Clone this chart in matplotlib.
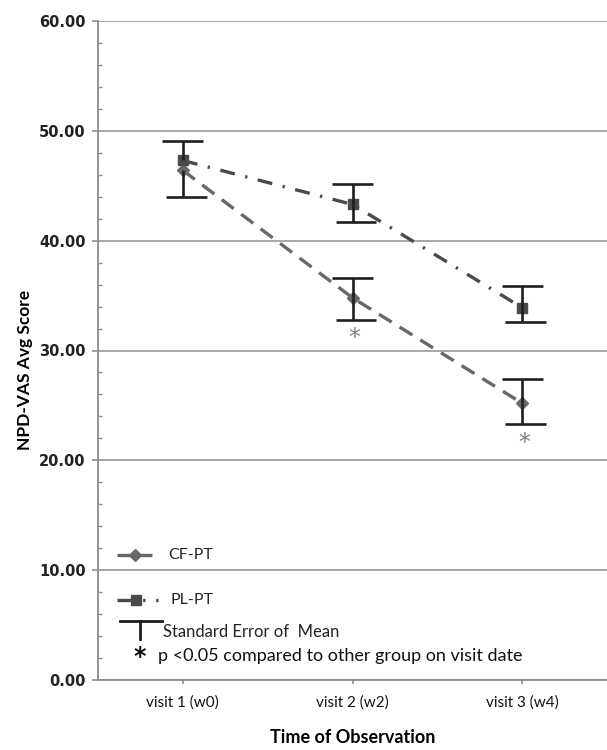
import matplotlib
matplotlib.use("Agg")
import matplotlib.pyplot as plt
import numpy as np
from matplotlib.lines import Line2D

categories = ["visit 1 (w0)", "visit 2 (w2)", "visit 3 (w4)"]
cf_mean = [46.4, 34.8, 25.2]
cf_upper = [np.nan, 36.6, 27.4]
cf_lower = [44.0, 32.8, 23.3]
pl_mean = [47.3, 43.3, 33.9]
pl_upper = [49.1, 45.2, 35.9]
pl_lower = [np.nan, 41.7, 32.6]
cf_significant = [False, True, True]
yticks = [0, 10, 20, 30, 40, 50, 60]

fig = plt.figure(figsize=(6.07, 7.5), dpi=100)
ax = fig.add_axes([98/607, 70/750, 509/607, 659/750])
x = np.arange(len(categories))

cf_col = "#686868"
pl_col = "#4a4a4a"
err_col = "#1e1e1e"

ax.plot(x, cf_mean, color=cf_col, lw=2.4, dashes=(4.5, 2.8), marker="D",
        markersize=6, markerfacecolor=cf_col, markeredgecolor=cf_col, zorder=3)
ax.plot(x, pl_mean, color=pl_col, lw=2.4, dashes=(4.5, 3.2, 0.7, 3.2), marker="s",
        markersize=7.5, markerfacecolor=pl_col, markeredgecolor=pl_col, zorder=3)

capw = 0.12
for mean, up, lo in [(pl_mean, pl_upper, pl_lower), (cf_mean, cf_upper, cf_lower)]:
    for xi, m, u, l in zip(x, mean, up, lo):
        if not np.isnan(u):
            ax.vlines(xi, m, u, color=err_col, lw=1.9, zorder=4)
            ax.hlines(u, xi - capw, xi + capw, color=err_col, lw=1.9, zorder=4)
        if not np.isnan(l):
            ax.vlines(xi, l, m, color=err_col, lw=1.9, zorder=4)
            ax.hlines(l, xi - capw + 0.02, xi + capw + 0.02, color=err_col, lw=1.9, zorder=4)

for xi, lo, sig in zip(x, cf_lower, cf_significant):
    if sig:
        ax.text(xi + 0.01, lo - 0.6, "*", ha="center", va="top", fontsize=17,
                color="#808080", family="DejaVu Sans")

ax.set_xlim(-0.5, 2.5)
ax.set_ylim(0, 60)
ax.set_yticks(yticks)
ax.set_yticklabels([f"{v:.2f}" for v in yticks])
ax.set_yticks(np.arange(0, 61, 2), minor=True)
ax.set_xticks(x)
ax.set_xticklabels(categories)
ax.grid(axis="y", which="major", color="#a0a0a0", lw=1.3)
ax.set_axisbelow(True)
for s in ["top", "right"]:
    ax.spines[s].set_visible(False)
for s in ["left", "bottom"]:
    ax.spines[s].set_color("#8c8c8c")
    ax.spines[s].set_linewidth(1.3)
ax.tick_params(axis="y", which="major", direction="out", length=4, color="#8c8c8c",
               width=1.2, labelsize=10.5, labelcolor="#222222", pad=5)
ax.tick_params(axis="y", which="minor", direction="in", length=3, color="#8c8c8c", width=1)
ax.tick_params(axis="x", which="major", direction="out", length=3, color="#8c8c8c",
               width=1.2, labelsize=11, labelcolor="#111111", pad=8)
for lab in ax.get_yticklabels():
    lab.set_fontweight("bold")
    lab.set_family("DejaVu Sans")
for lab in ax.get_xticklabels():
    lab.set_family("Lato")

ax.set_ylabel("NPD-VAS Avg Score", fontsize=12.5, fontweight="bold", family="Lato")
ax.yaxis.set_label_coords(-0.128, 0.47)
ax.set_xlabel("Time of Observation", fontsize=13, fontweight="bold", family="Lato")
ax.xaxis.set_label_coords(0.5, -0.074)

# custom legend
T = ax.transAxes
def fx(px):
    return (px - 98) / 509
def fy(py):
    return (680 - py) / 659

ax.add_line(Line2D([fx(117), fx(153)], [fy(555), fy(555)], transform=T, color=cf_col,
                   lw=2.4, dashes=(4.5, 1.5), clip_on=False))
ax.add_line(Line2D([fx(135)], [fy(555)], transform=T, color=cf_col, marker="D",
                   markersize=6, lw=0))
ax.text(fx(168), fy(555), "CF-PT", transform=T, va="center", ha="left", fontsize=11.5,
        family="Lato", color="#222222")

ax.add_line(Line2D([fx(117), fx(158)], [fy(600), fy(600)], transform=T, color=pl_col,
                   lw=2.4, dashes=(4.5, 3.2, 0.7, 3.2)))
ax.add_line(Line2D([fx(136)], [fy(600)], transform=T, color=pl_col, marker="s",
                   markersize=7.5, lw=0))
ax.text(fx(170), fy(600), "PL-PT", transform=T, va="center", ha="left", fontsize=11.5,
        family="Lato", color="#222222")

ax.add_line(Line2D([fx(120), fx(162)], [fy(621), fy(621)], transform=T, color=err_col, lw=2))
ax.add_line(Line2D([fx(140), fx(140)], [fy(621), fy(639)], transform=T, color=err_col, lw=2))
ax.text(fx(163), fy(632), "Standard Error of  Mean", transform=T, va="center", ha="left",
        fontsize=12, family="Lato", color="#222222")

ax.text(fx(140), fy(657), "*", transform=T, va="center", ha="center", fontsize=17,
        fontweight="bold", family="DejaVu Sans", color="#111111")
ax.text(fx(158), fy(656), "p <0.05 compared to other group on visit date", transform=T,
        va="center", ha="left", fontsize=13, family="Lato", color="#111111")

fig.savefig("out.png", dpi=100)
